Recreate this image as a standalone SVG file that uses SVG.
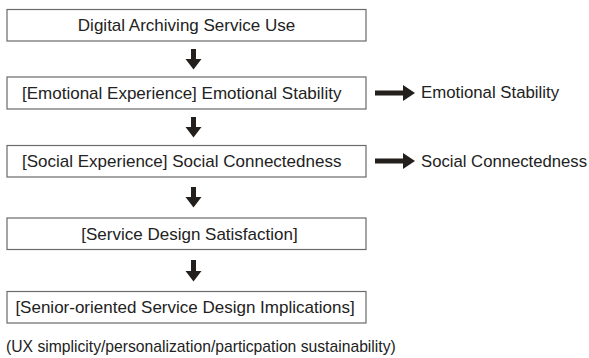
<svg xmlns="http://www.w3.org/2000/svg" width="589" height="358" viewBox="0 0 589 358">
<style>
.box{fill:#fff;stroke:#6a6a6a;stroke-width:1.2}
.t{font-family:"Liberation Sans",Arial,sans-serif;font-size:17px;fill:#222}
.c{text-anchor:middle}
.arr{fill:#231f1d}
</style>
<rect width="589" height="358" fill="#fff"/>
<g id="n1"><rect class="box" x="7" y="9.5" width="359" height="31.5"/><text class="t c" x="186.5" y="31">Digital Archiving Service Use</text></g>
<g id="n2"><rect class="box" x="7" y="77" width="359" height="32"/><text class="t" x="22" y="98.5">[Emotional Experience]  Emotional Stability</text></g>
<g id="n3"><rect class="box" x="7" y="145.5" width="359" height="31.5"/><text class="t" x="22" y="167">[Social Experience] Social Connectedness</text></g>
<g id="n4"><rect class="box" x="7" y="218" width="359" height="31.5"/><text class="t c" x="189.5" y="239.5">[Service Design Satisfaction]</text></g>
<g id="n5"><rect class="box" x="7" y="291.5" width="359" height="31.5"/><text class="t c" x="185" y="313">[Senior-oriented Service Design Implications]</text></g>
<g id="o1"><text class="t" x="421" y="98" style="font-size:16.8px">Emotional Stability</text></g>
<g id="o2"><text class="t" x="421" y="166.5" style="font-size:16.7px">Social Connectedness</text></g>
<g id="note"><text class="t" x="6" y="352" style="font-size:15.7px">(UX simplicity/personalization/particpation sustainability)</text></g>
<g id="connectors">
<path class="arr" d="M191 49h5v10h5.5l-8 10.5l-8-10.5h5.5z"/>
<path class="arr" d="M191 117h5v10h5.5l-8 10.5l-8-10.5h5.5z"/>
<path class="arr" d="M191 187h5v10h5.5l-8 10.5l-8-10.5h5.5z"/>
<path class="arr" d="M191 260h5v11h5.5l-8 10.5l-8-10.5h5.5z"/>
<path class="arr" d="M375 90.5h28v-5.5l12 8l-12 8v-5.5h-28z"/>
<path class="arr" d="M375 158.5h28v-5.5l12 8l-12 8v-5.5h-28z"/>
</g>
</svg>
